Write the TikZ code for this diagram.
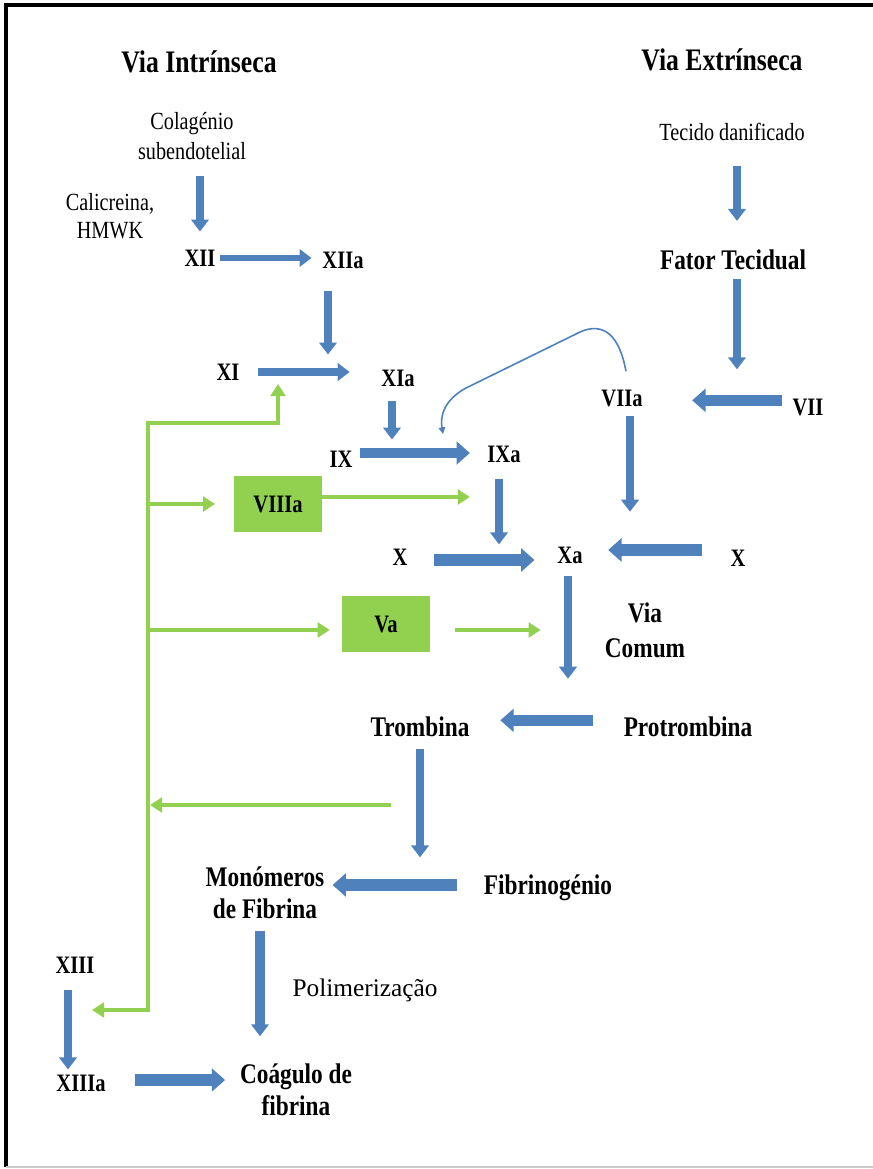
\documentclass[tikz,border=0pt]{standalone}
\usepackage{fontspec}
\setmainfont[FakeStretch=0.82]{Liberation Serif}
\newfontfamily\plainfont{Liberation Serif}
\usetikzlibrary{arrows.meta}

\definecolor{arrowblue}{RGB}{79,129,189}
\definecolor{boxgreen}{RGB}{146,208,80}

\tikzset{
	headline/.style={font=\bfseries\fontsize{23.5}{27}\selectfont, inner sep=0pt},
	lbl/.style={font=\bfseries\fontsize{21.3}{24}\selectfont, inner sep=0pt, align=center},
	fac/.style={font=\bfseries\fontsize{18.8}{21}\selectfont, inner sep=0pt},
	remark/.style={font=\fontsize{18.5}{22.5}\selectfont, inner sep=0pt, align=center},
	greenbox/.style={fill=boxgreen, minimum width=66pt, minimum height=42pt, inner sep=0pt,
		font=\bfseries\fontsize{18.8}{21}\selectfont},
	bluearrow/.style={draw=arrowblue, line width=6.5pt, -{Triangle[length=9pt, width=13pt]}},
	widearrow/.style={draw=arrowblue, line width=8.5pt, -{Triangle[length=10pt, width=17pt]}},
	thinarrow/.style={draw=arrowblue, line width=1.2pt, -{Triangle[length=5pt, width=5pt]}},
	greenarrow/.style={draw=boxgreen, line width=2.8pt, -{Triangle[length=9pt, width=11pt]}},
}

\begin{document}
\begin{tikzpicture}[x=0.75pt, y=-0.75pt]
		\useasboundingbox (0,0) rectangle (873,1169);
		% frame
		\draw[black, line width=2.5pt] (873,5) -- (6,5) -- (6,1167);
		\draw[black!20, line width=1pt] (6,1167) -- (873,1167);

		% intrinsic pathway
		\node[headline] (intr) at (199,62) {Via Intrínseca};
		\node[remark] (col) at (192,136) {Colagénio\\subendotelial};
		\node[remark, font=\fontsize{18.5}{21}\selectfont] (cal) at (110,216) {Calicreina,\\HMWK};
		\node[fac] (xii) at (200,258) {XII};
		\node[fac] (xiia) at (343,260) {XIIa};
		\node[fac] (xi) at (228,372) {XI};
		\node[fac] (xia) at (398,378) {XIa};
		\node[fac] (ix) at (341,459) {IX};
		\node[fac] (ixa) at (504,454) {IXa};
		\node[greenbox] (viiia) at (278,504) {VIIIa};

		% extrinsic pathway
		\node[headline] (extr) at (722,60) {Via Extrínseca};
		\node[remark] (tec) at (732,132) {Tecido danificado};
		\node[lbl] (ft) at (733,260) {Fator Tecidual};
		\node[fac] (viia) at (622,398) {VIIa};
		\node[fac] (vii) at (808,407) {VII};

		% common pathway
		\node[fac] (xl) at (400,557) {X};
		\node[fac] (xa) at (570,555) {Xa};
		\node[fac] (xr) at (738,558) {X};
		\node[greenbox] (va) at (386,624) {Va};
		\node[lbl, font=\bfseries\fontsize{21.3}{26}\selectfont] (comum) at (645,630) {Via\\Comum};
		\node[lbl] (trom) at (420,727) {Trombina};
		\node[lbl] (prot) at (688,727) {Protrombina};
		\node[lbl] (mono) at (265,893) {Monómeros\\de Fibrina};
		\node[lbl] (fibr) at (548,888) {Fibrinogénio};
		\node[inner sep=0pt, font=\plainfont\fontsize{19}{22}\selectfont] (pol) at (365,990) {Polimerização};
		\node[fac] (xiii) at (75,965) {XIII};
		\node[fac] (xiiia) at (81,1083) {XIIIa};
		\node[lbl] (coag) at (296,1090) {Coágulo de\\fibrina};

		% blue cascade arrows
		\draw[bluearrow, shorten <=12pt, shorten >=13.5pt] (xii.north |- col.south) -- (xii.north);
		\draw[bluearrow, line width=5.2pt, shorten <=3.5pt, shorten >=8pt] (xii.east) -- (xii.east -| xiia.west);
		\draw[bluearrow, shorten <=16.5pt, shorten >=6.75pt] ([xshift=-11.25pt]xiia.south) -- ([xshift=-11.25pt]xiia.south |- xi.north);
		\draw[bluearrow, shorten <=14pt, shorten >=23.6pt] (xi.east) -- (xi.east -| xia.west);
		\draw[bluearrow, shorten <=10.5pt, shorten >=8.25pt] ([xshift=-4.5pt]xia.south) -- ([xshift=-4.5pt]xia.south |- ix.north);
		\draw[widearrow, line width=7.5pt, shorten <=5.7pt, shorten >=13pt] ([yshift=4.5pt]ix.east) -- ([yshift=4.5pt]ix.east -| ixa.west);
		\draw[bluearrow, shorten <=12pt, shorten >=1.5pt] ([xshift=-3.75pt]ixa.south) -- ([xshift=-3.75pt]ixa.south |- xa.north);
		\draw[widearrow, shorten <=20pt, shorten >=17pt] ([yshift=-2.25pt]xl.east) -- ([yshift=-2.25pt]xl.east -| xa.west);
		\draw[widearrow, shorten <=21.5pt, shorten >=19pt] ([yshift=6pt]xr.west) -- ([yshift=6pt]xr.west -| xa.east);
		\draw[bluearrow, shorten <=6.75pt, shorten >=26pt] ([xshift=6pt]viia.south) -- ([xshift=6pt]viia.south |- xa.north);
		\draw[bluearrow, shorten <=18.75pt, shorten >=21.6pt] ([xshift=3pt]ft.north |- tec.south) -- ([xshift=3pt]ft.north);
		\draw[bluearrow, shorten <=6.75pt, shorten >=15pt] ([xshift=3pt]ft.south) -- ([xshift=3pt]ft.south |- viia.north);
		\draw[widearrow, shorten <=8pt, shorten >=37pt] ([yshift=5pt]vii.west) -- ([yshift=5pt]vii.west -| viia.east);
		\draw[bluearrow, shorten <=9pt, shorten >=28.5pt] ([xshift=-1.5pt]xa.south) -- ([xshift=-1.5pt]xa.south |- trom.north);
		\draw[widearrow, shorten <=23pt, shorten >=23pt] ([yshift=5pt]prot.west) -- ([yshift=5pt]prot.west -| trom.east);
		\draw[bluearrow, shorten <=9pt, shorten >=7pt] (trom.south) -- (trom.south |- mono.north);
		\draw[widearrow, shorten <=20pt, shorten >=6pt] ([yshift=2.25pt]fibr.west) -- ([yshift=2.25pt]fibr.west -| mono.east);
		\draw[bluearrow, line width=7.5pt, shorten <=8.6pt, shorten >=20.6pt] ([xshift=-3.75pt]mono.south) -- ([xshift=-3.75pt]mono.south |- coag.north);
		\draw[bluearrow, shorten <=12.75pt, shorten >=3.75pt] ([xshift=-5.25pt]xiii.south) -- ([xshift=-5.25pt]xiii.south |- xiiia.north);
		\draw[widearrow, shorten <=22pt, shorten >=11pt] ([yshift=2.25pt]xiiia.east) -- ([yshift=2.25pt]xiiia.east -| coag.west);

		% VIIa feeds back on IX
		\coordinate (ixhook) at (443,434);
		\draw[thinarrow] ([shift={(4,-18)}]viia.north) .. controls (618,328) and (598,322) .. (576,334)
			-- (466,388) .. controls (444,400) and (440,416) .. (ixhook);

		% thrombin feedback (green)
		\coordinate (trunktop) at (148,423);
		\coordinate (trunkbot) at (148,1010);
		\coordinate (xitip) at (278,384);
		\coordinate (xiiitip) at (92,1010);
		\coordinate (tromfb) at (391,805);
		\draw[greenarrow, {Triangle[length=9pt, width=11pt]}-{Triangle[length=9pt, width=11pt]}]
			(xitip) -- (xitip |- trunktop) -- (trunktop) -- (trunkbot) -- (xiiitip);
		\draw[greenarrow, shorten >=14pt] (trunktop |- viiia.west) -- (viiia.west);
		\draw[greenarrow, shorten >=13pt] ([yshift=5.25pt]viiia.east) -- ([yshift=5.25pt]viiia.east -| ixa.west);
		\draw[greenarrow, shorten >=9pt] ([yshift=-4.5pt]va.west -| trunktop) -- ([yshift=-4.5pt]va.west);
		\draw[greenarrow, shorten <=18.75pt, shorten >=12.4pt] ([yshift=-4.5pt]va.east) -- ([yshift=-4.5pt]va.east -| xa.west);
		\draw[greenarrow, shorten >=1.5pt] (tromfb) -- (tromfb -| trunktop);
	\end{tikzpicture}
\end{document}
